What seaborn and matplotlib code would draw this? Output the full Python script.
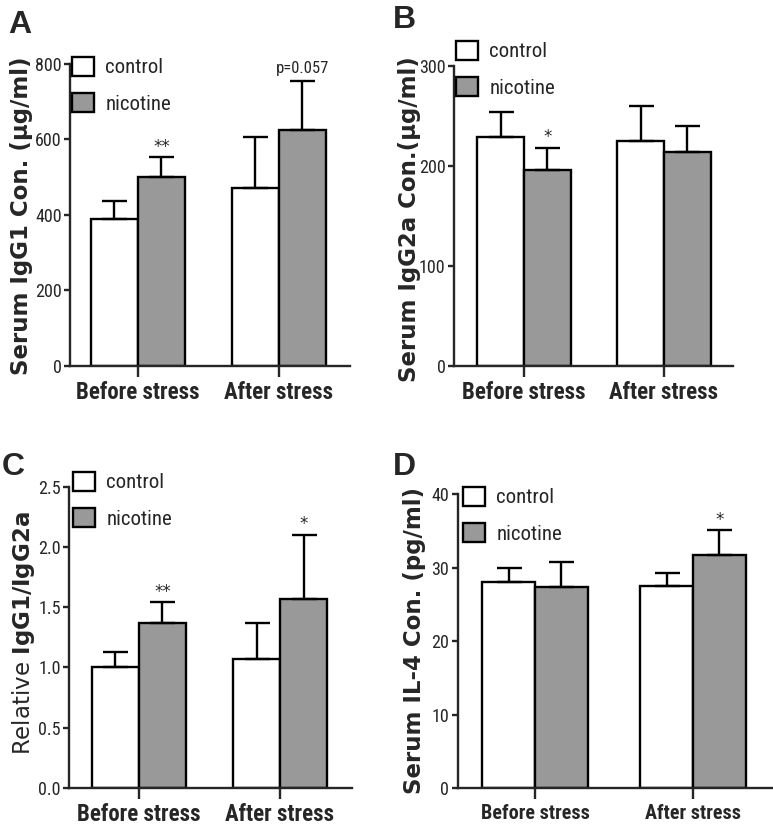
import matplotlib
matplotlib.use('Agg')
import numpy as np
import pandas as pd
import seaborn as sns
import matplotlib.pyplot as plt
from matplotlib import font_manager
from matplotlib.patches import Patch
from matplotlib.ticker import FormatStrFormatter

# Data (mean and upper SEM)
stages = ['Before stress', 'After stress']
groups = ['control', 'nicotine']

igg1_control = [390, 472]
igg1_control_err = [46, 135]
igg1_nicotine = [500, 626]
igg1_nicotine_err = [53, 128]

igg2a_control = [229, 225]
igg2a_control_err = [25, 35]
igg2a_nicotine = [196, 214]
igg2a_nicotine_err = [22, 26]

ratio_control = [1.00, 1.07]
ratio_control_err = [0.13, 0.30]
ratio_nicotine = [1.37, 1.57]
ratio_nicotine_err = [0.17, 0.53]

il4_control = [28.1, 27.5]
il4_control_err = [1.9, 1.7]
il4_nicotine = [27.4, 31.7]
il4_nicotine_err = [3.4, 3.4]

sns.set_style('ticks')
fonts = font_manager.fontManager.ttflist
names = {f.name for f in fonts}
narrow, stretch = 'DejaVu Sans', 'normal'
for cand in ['Liberation Sans Narrow', 'Roboto Condensed', 'Open Sans Condensed']:
    if cand in names:
        narrow = cand
        break
else:
    if any(f.name == 'DejaVu Sans' and f.stretch in ('condensed', 'semi-condensed') for f in fonts):
        stretch = 'condensed'
plt.rcParams['font.family'] = ['Liberation Sans', 'DejaVu Sans']
plt.rcParams['mathtext.fontset'] = 'custom'
plt.rcParams['mathtext.rm'] = 'DejaVu Sans'
plt.rcParams['mathtext.bf'] = 'DejaVu Sans:bold'

W, H = 773, 826
fig = plt.figure(figsize=(W / 100, H / 100), dpi=100)
colors = {'control': 'white', 'nicotine': '#999999'}
LW = 1.7


def px_axes(l, r, t, b):
    return fig.add_axes([l / W, 1 - b / H, (r - l) / W, (b - t) / H])


def draw_panel(ax, control, control_err, nicotine, nicotine_err, ymax, step, fmt,
               marks, xlim, xfs, legend_xy):
    df = pd.DataFrame({'stage': stages * 2,
                       'group': ['control'] * 2 + ['nicotine'] * 2,
                       'value': control + nicotine})
    sns.barplot(data=df, x='stage', y='value', hue='group', order=stages,
                hue_order=groups, palette=colors, saturation=1, edgecolor='black',
                linewidth=LW, width=0.667, errorbar=None, legend=False, ax=ax)
    errs = {'control': control_err, 'nicotine': nicotine_err}
    tops = {}
    for cont, g in zip(ax.containers, groups):
        for i, (bar, e) in enumerate(zip(cont, errs[g])):
            x = bar.get_x() + bar.get_width() / 2
            h = bar.get_height()
            ax.errorbar(x, h, yerr=[[0], [e]], fmt='none', ecolor='black',
                        elinewidth=LW, capsize=9, capthick=LW, zorder=1)
            tops[(g, stages[i])] = (x, h + e)
    for g, s, txt in marks:
        x, y = tops[(g, s)]
        if txt.startswith('p'):
            ax.annotate(txt, xy=(x, y), xytext=(0, 4), textcoords='offset points',
                        ha='center', va='bottom', fontsize=12, family=narrow,
                        fontstretch=stretch)
        else:
            ax.annotate(txt, xy=(x, y), xytext=(0, 1), textcoords='offset points',
                        ha='center', va='bottom', fontsize=12, family='DejaVu Sans')
    ax.set_xlim(*xlim)
    ax.set_ylim(0, ymax)
    ax.set_yticks(np.arange(0, ymax + step / 2, step))
    ax.yaxis.set_major_formatter(FormatStrFormatter(fmt))
    ax.set_xlabel('')
    ax.set_ylabel('')
    sns.despine(ax=ax)
    for sp in ['left', 'bottom']:
        ax.spines[sp].set_linewidth(LW)
    ax.tick_params(axis='x', length=8, width=LW, pad=3)
    ax.tick_params(axis='y', length=4, width=LW, pad=2)
    for lbl in ax.get_yticklabels():
        lbl.set_family(narrow)
        lbl.set_fontstretch(stretch)
        lbl.set_fontsize(13)
    for lbl in ax.get_xticklabels():
        lbl.set_family(narrow)
        lbl.set_fontstretch(stretch)
        lbl.set_fontweight('bold')
        lbl.set_fontsize(xfs)
    handles = [Patch(facecolor=colors[g], edgecolor='black', linewidth=LW, label=g)
               for g in groups]
    ax.legend(handles=handles, loc='upper left',
              bbox_to_anchor=(legend_xy[0] / W, 1 - legend_xy[1] / H),
              bbox_transform=fig.transFigure, frameon=False, borderpad=0,
              borderaxespad=0, prop={'family': narrow, 'size': 15, 'stretch': stretch},
              handlelength=1.05, handleheight=1.0, handletextpad=0.55,
              labelspacing=0.75)


axA = px_axes(70, 350, 64, 366)
draw_panel(axA, igg1_control, igg1_control_err, igg1_nicotine, igg1_nicotine_err,
           800, 200, '%d', [('nicotine', 'Before stress', '**'),
                            ('nicotine', 'After stress', 'p=0.057')],
           (-0.482, 1.504), 16.5, (72, 57))

axB = px_axes(454, 733, 65.7, 366)
draw_panel(axB, igg2a_control, igg2a_control_err, igg2a_nicotine, igg2a_nicotine_err,
           300, 100, '%d', [('nicotine', 'Before stress', '*')],
           (-0.5, 1.493), 16.5, (456, 41))

axC = px_axes(69, 352, 486.7, 787.7)
draw_panel(axC, ratio_control, ratio_control_err, ratio_nicotine, ratio_nicotine_err,
           2.5, 0.5, '%.1f', [('nicotine', 'Before stress', '**'),
                              ('nicotine', 'After stress', '*')],
           (-0.496, 1.51), 16.5, (73, 472))

axD = px_axes(457.7, 772, 494, 788.3)
draw_panel(axD, il4_control, il4_control_err, il4_nicotine, il4_nicotine_err,
           40, 10, '%d', [('nicotine', 'After stress', '*')],
           (-0.49, 1.5), 14.5, (463, 487))

# y labels
ylab = dict(rotation=90, ha='center', va='center', fontsize=16.5)
fig.text(22 / W, 1 - 216 / H, 'Serum IgG1 Con. (μg/ml)', family='DejaVu Sans',
         fontweight='bold', **ylab)
fig.text(410 / W, 1 - 219 / H, 'Serum IgG2a Con.(μg/ml)', family='DejaVu Sans',
         fontweight='bold', **ylab)
fig.text(24 / W, 1 - 633 / H, r'Relative $\mathbf{IgG1/IgG2a}$', family='DejaVu Sans',
         **ylab)
fig.text(414 / W, 1 - 641 / H, 'Serum IL-4 Con. (pg/ml)', family='DejaVu Sans',
         fontweight='bold', **ylab)

# panel letters
for txt, x, y in [('A', 8, 10), ('B', 393, 5), ('C', 2, 452), ('D', 393, 452)]:
    fig.text(x / W, 1 - y / H, txt, ha='left', va='top', fontsize=23,
             fontweight='bold', family=['Liberation Sans', 'DejaVu Sans'])

fig.savefig('out.png', dpi=100)
